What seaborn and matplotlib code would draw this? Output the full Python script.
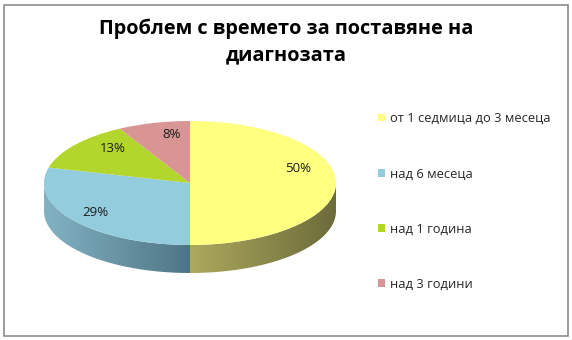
import numpy as np
import matplotlib
matplotlib.use("Agg")
import matplotlib.pyplot as plt
import seaborn as sns
from matplotlib.patches import Rectangle, Polygon
from matplotlib.colors import to_rgb

# ---- data ----
categories = ["от 1 седмица до 3 месеца", "над 6 месеца", "над 1 година", "над 3 години"]
values = [50, 29, 13, 8]
title = "Проблем с времето за поставяне на\nдиагнозата"

top_colors = ["#FFFF80", "#93CDDD", "#B3D62C", "#D99594"]
side_colors = [("#ADA95E", "#6C6B3A"), ("#83B3C3", "#4E7585"),
               ("#7E9A1E", "#5A6E14"), ("#A86E6D", "#7A4F4E")]

sns.set_theme(style="white")
plt.rcParams['font.family'] = ['Open Sans', 'DejaVu Sans']

W, H = 572, 340
fig = plt.figure(figsize=(W / 100, H / 100), dpi=100)
ax = fig.add_axes([0, 0, 1, 1])

# pixel geometry of pie
cx, cy = 190, 183
rx, ry = 146, 62
depth = 28 / ry

wedges, texts, autotexts = ax.pie(
    values, colors=top_colors, startangle=90, counterclock=False,
    autopct=lambda p: f"{p:.0f}%", pctdistance=0.78,
    wedgeprops=dict(linewidth=0, zorder=3),
    textprops=dict(fontsize=9.5, color="#1c1c1c"))

# small nudges to mimic Excel's label placement
nudges = [(-0.04, 0.24), (-0.03, 0.0), (0.09, 0.08), (0.07, 0.03)]
for t, (dx, dy) in zip(autotexts, nudges):
    t.set_zorder(5)
    x0, y0 = t.get_position()
    t.set_position((x0 + dx, y0 + dy))

# side (extrusion) of the 3D pie with horizontal gradient
for w, (lc, dc) in zip(wedges, side_colors):
    t1, t2 = w.theta1, w.theta2
    th = np.linspace(t1, t2, 400)
    s = np.sin(np.deg2rad(th))
    mask = s <= 1e-9
    if mask.sum() < 2:
        continue
    tv = th[mask]
    xs = np.cos(np.deg2rad(tv))
    ys = np.sin(np.deg2rad(tv))
    pts = np.concatenate([np.column_stack([xs, ys]),
                          np.column_stack([xs[::-1], ys[::-1] - depth])])
    poly = Polygon(pts, closed=True, facecolor="none", edgecolor="none",
                   transform=ax.transData)
    ax.add_patch(poly)
    xmin, xmax = xs.min(), xs.max()
    ymin, ymax = ys.min() - depth, ys.max()
    c1, c2 = np.array(to_rgb(lc)), np.array(to_rgb(dc))
    f = np.linspace(0, 1, 256)[None, :, None]
    grad = c1[None, None, :] * (1 - f) + c2[None, None, :] * f
    grad = np.repeat(grad, 2, axis=0)
    im = ax.imshow(grad, extent=(xmin, xmax, ymin, ymax), aspect="auto",
                   origin="lower", zorder=2, interpolation="bilinear")
    im.set_clip_path(poly)

ax.set_aspect("auto")
ax.set_xlim(-cx / rx, (W - cx) / rx)
ax.set_ylim(-(H - cy) / ry, cy / ry)
ax.axis("off")

fig.text(0.5, 1 - 41.5 / H, title, ha="center", va="center", fontsize=14.3,
         fontweight="bold", color="#000000", linespacing=1.42)

leg = ax.legend(wedges, categories, loc="upper left",
                bbox_to_anchor=(373 / W, 1 - 107 / H), bbox_transform=fig.transFigure,
                frameon=False, fontsize=9.3, handlelength=0.55, handleheight=0.55,
                handletextpad=0.35, labelspacing=3.27, borderaxespad=0)
for t in leg.get_texts():
    t.set_color("#262626")

fig.add_artist(Rectangle((4 / W, 4 / H), 564 / W, 331 / H, transform=fig.transFigure,
                         fill=False, edgecolor="#8c8c8c", linewidth=1.2))

fig.savefig("out.png", dpi=100)
